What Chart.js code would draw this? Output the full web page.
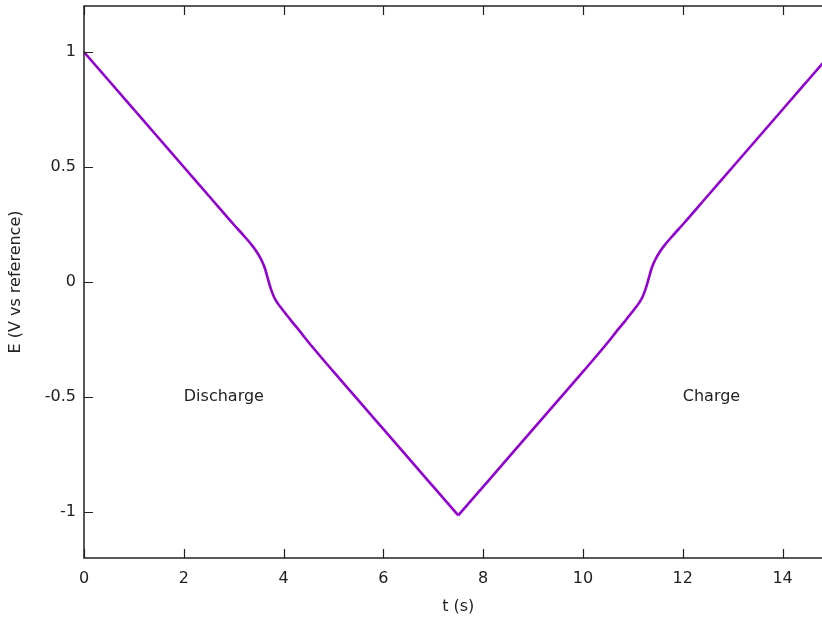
<!DOCTYPE html>
<html lang="en">

<head>
    <meta charset="utf-8">
    <title>Potential vs time</title>
    <script src="https://cdn.jsdelivr.net/npm/chart.js"></script>
    <style>
        html, body { margin: 0; padding: 0; background: #fff; overflow: hidden; }
    </style>
</head>

<body>
    <canvas id="potChart" width="842" height="620"></canvas>

    <script>
        // discharge branch: time (s) and potential E (V vs reference)
        const dischargeTimes = [0, 0.5, 1, 1.5, 2, 2.5, 3, 3.2, 3.35, 3.45, 3.55, 3.62, 3.69, 3.75, 3.81, 3.88, 3.96, 4.05, 4.15, 4.3, 4.5,
            5, 5.5, 6, 6.5, 7, 7.5];
        const dischargeE = [1, 0.875, 0.75, 0.625, 0.5, 0.375, 0.25, 0.202, 0.164, 0.135, 0.098, 0.063, 0.01, -0.033, -0.066, -0.092, -0.115, -0.14, -0.168, -0.207, -0.262,
            -0.39, -0.515, -0.64, -0.765, -0.89, -1.015];

        // charge branch
        const chargeTimes = [7.5, 8, 8.5, 9, 9.5, 10, 10.5, 10.7, 10.85, 10.95, 11.04, 11.12, 11.19, 11.25, 11.31, 11.38, 11.45, 11.55, 11.65, 11.8,
            12, 12.5, 13, 13.5, 14, 14.5, 15];
        const chargeE = [-1.015, -0.89, -0.765, -0.64, -0.515, -0.39, -0.262, -0.207, -0.168, -0.14, -0.115, -0.092, -0.066, -0.033, 0.01, 0.063, 0.098, 0.135, 0.164, 0.202,
            0.25, 0.375, 0.5, 0.625, 0.75, 0.875, 1];

        const xTicks = [0, 2, 4, 6, 8, 10, 12, 14];
        const yTicks = [-1, -0.5, 0, 0.5, 1];

        const notes = [
            { text: "Discharge", x: 2, y: -0.5 },
            { text: "Charge", x: 12, y: -0.5 }
        ];

        const FONT = "'DejaVu Sans', sans-serif";
        const INK = "#222";
        const PURPLE = "#9400d3";

        // gnuplot-like frame: border plus inward (and mirrored) tick marks, text labels
        const framePlugin = {
            id: 'frame',
            afterDatasetsDraw(chart) {
                const { ctx, chartArea: a, scales } = chart;
                ctx.save();
                ctx.strokeStyle = INK;
                ctx.lineWidth = 1.5;
                ctx.strokeRect(a.left, a.top, a.right - a.left, a.bottom - a.top);
                ctx.lineWidth = 1.2;
                ctx.beginPath();
                xTicks.forEach(v => {
                    const px = Math.round(scales.x.getPixelForValue(v)) + 0.5;
                    ctx.moveTo(px, a.bottom); ctx.lineTo(px, a.bottom - 9);
                    ctx.moveTo(px, a.top); ctx.lineTo(px, a.top + 9);
                });
                yTicks.forEach(v => {
                    const py = Math.round(scales.y.getPixelForValue(v)) + 0.5;
                    ctx.moveTo(a.left, py); ctx.lineTo(a.left + 9, py);
                    ctx.moveTo(a.right, py); ctx.lineTo(a.right - 9, py);
                });
                ctx.stroke();

                ctx.fillStyle = INK;
                ctx.font = "16px " + FONT;
                ctx.textAlign = "left";
                ctx.textBaseline = "middle";
                notes.forEach(n => {
                    ctx.fillText(n.text, scales.x.getPixelForValue(n.x), scales.y.getPixelForValue(n.y));
                });
                ctx.restore();
            }
        };

        function branch(ts, es) {
            return {
                data: ts.map((t, i) => ({ x: t, y: es[i] })),
                borderColor: PURPLE,
                borderWidth: 2.6,
                pointRadius: 0,
                fill: false,
                cubicInterpolationMode: 'monotone'
            };
        }

        const ctx = document.getElementById("potChart").getContext("2d");
        const potChart = new Chart(ctx, {
            type: 'line',
            data: {
                datasets: [
                    Object.assign({ label: "Discharge" }, branch(dischargeTimes, dischargeE)),
                    Object.assign({ label: "Charge" }, branch(chargeTimes, chargeE))
                ]
            },
            options: {
                responsive: false,
                animation: false,
                layout: {
                    padding: { left: 0, top: 6, right: 9.5, bottom: 0 }
                },
                scales: {
                    x: {
                        type: 'linear',
                        min: 0,
                        max: 15,
                        grid: { display: false, drawTicks: false },
                        border: { display: false },
                        afterBuildTicks: scale => { scale.ticks = xTicks.map(v => ({ value: v })); },
                        afterFit: scale => {
                            scale.height = 62;
                            scale.paddingLeft = 0;
                            scale.paddingRight = 0;
                        },
                        ticks: {
                            padding: 11,
                            color: INK,
                            font: { family: FONT, size: 16 },
                            callback: v => String(v)
                        },
                        title: {
                            display: true,
                            text: "t (s)",
                            color: INK,
                            font: { family: FONT, size: 16 },
                            padding: { top: 0, bottom: 4 }
                        }
                    },
                    y: {
                        min: -1.2,
                        max: 1.2,
                        grid: { display: false, drawTicks: false },
                        border: { display: false },
                        afterBuildTicks: scale => { scale.ticks = yTicks.map(v => ({ value: v })); },
                        afterFit: scale => {
                            scale.width = 84;
                            scale.paddingTop = 0;
                            scale.paddingBottom = 0;
                        },
                        ticks: {
                            padding: 8,
                            color: INK,
                            font: { family: FONT, size: 16 },
                            callback: v => String(v)
                        },
                        title: {
                            display: true,
                            text: "E (V vs reference)",
                            color: INK,
                            font: { family: FONT, size: 16 },
                            padding: { top: 6, bottom: 0 }
                        }
                    }
                },
                plugins: {
                    legend: { display: false },
                    tooltip: { enabled: false }
                }
            },
            plugins: [framePlugin]
        });
    </script>
</body>

</html>
